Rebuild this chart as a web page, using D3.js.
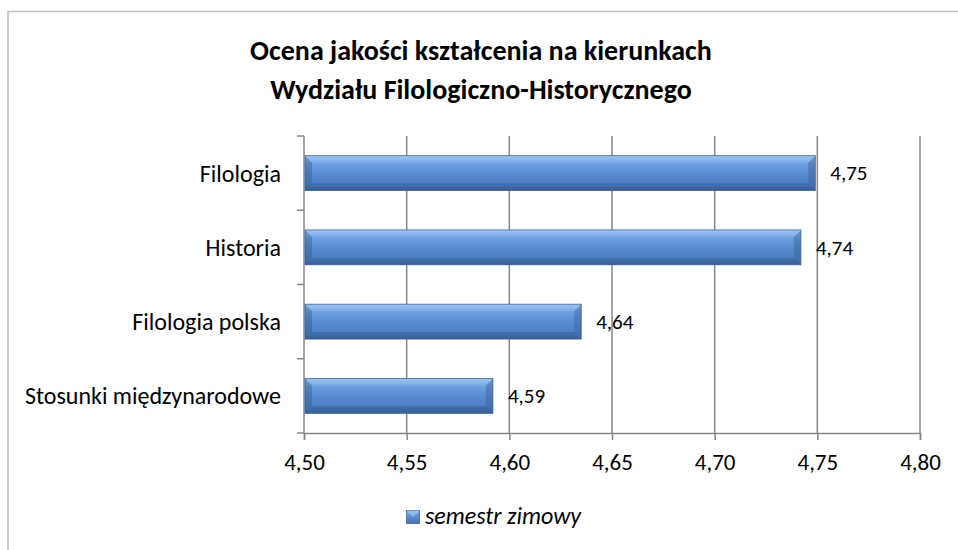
<!DOCTYPE html>
<html>
<head>
<meta charset="utf-8">
<style>
body { margin: 0; background: white; }
svg text { font-family: Calibri, Carlito, Lato, sans-serif; fill: #000; }
</style>
</head>
<body>
<script src="https://cdnjs.cloudflare.com/ajax/libs/d3/7.8.5/d3.min.js"></script>
<script>
// data
var categories = ["Filologia", "Historia", "Filologia polska", "Stosunki międzynarodowe"];
var values = [4.749, 4.742, 4.635, 4.592];
var valueLabels = ["4,75", "4,74", "4,64", "4,59"];
var ticks = [4.50, 4.55, 4.60, 4.65, 4.70, 4.75, 4.80];
var titleLines = ["Ocena jakości kształcenia na kierunkach", "Wydziału Filologiczno-Historycznego"];
var seriesName = "semestr zimowy";

var width = 958, height = 550;
var fmt = function(d) { return d3.format(".2f")(d).replace(".", ","); };

var svg = d3.select("body").append("svg")
    .attr("width", width)
    .attr("height", height);

// gradients for the bevelled bars
var defs = svg.append("defs");
var grad = defs.append("linearGradient")
    .attr("id", "barGrad")
    .attr("x1", 0).attr("y1", 0).attr("x2", 0).attr("y2", 1);
grad.append("stop").attr("offset", "0%").attr("stop-color", "#9cc3f2");
grad.append("stop").attr("offset", "12%").attr("stop-color", "#8ab6ec");
grad.append("stop").attr("offset", "25%").attr("stop-color", "#6b9ee0");
grad.append("stop").attr("offset", "55%").attr("stop-color", "#5589cf");
grad.append("stop").attr("offset", "85%").attr("stop-color", "#4c7dc0");
grad.append("stop").attr("offset", "100%").attr("stop-color", "#3e659c");

// chart frame (runs off the page on the right and bottom)
svg.append("rect")
    .attr("x", 8).attr("y", 11.5)
    .attr("width", 1000).attr("height", 600)
    .attr("fill", "none")
    .attr("stroke", "#bfbfbf")
    .attr("stroke-width", 1.5);

// title
svg.append("g").selectAll("text")
    .data(titleLines)
    .enter()
    .append("text")
    .attr("x", 481)
    .attr("y", function(d, i) { return 60 + i * 39; })
    .attr("text-anchor", "middle")
    .style("font-size", "28px")
    .style("font-weight", "bold")
    .text(function(d) { return d; });

var x = d3.scaleLinear()
    .domain([4.5, 4.8])
    .range([304, 920]);

var y = d3.scaleBand()
    .domain(categories)
    .range([136, 433])
    .paddingInner(0.53)
    .paddingOuter(0.265);

// vertical gridlines
svg.append("g").selectAll("line")
    .data(ticks.slice(1))
    .enter()
    .append("line")
    .attr("x1", function(d) { return x(d); })
    .attr("x2", function(d) { return x(d); })
    .attr("y1", 136)
    .attr("y2", 433)
    .attr("stroke", "#868686")
    .attr("stroke-width", 1.5);

// x axis
var xAxis = svg.append("g")
    .attr("transform", "translate(0,433)")
    .call(d3.axisBottom(x).tickValues(ticks).tickFormat(fmt).tickSize(7).tickPadding(14));
xAxis.select(".domain").attr("stroke", "#868686").attr("stroke-width", 1.5);
xAxis.selectAll(".tick line").attr("stroke", "#868686").attr("stroke-width", 1.5);
xAxis.selectAll("text")
    .style("font-family", "Calibri, Carlito, Lato, sans-serif")
    .style("font-size", "23px")
    .attr("fill", "#000");

// y axis: ticks sit between the categories
var yAxisG = svg.append("g");
yAxisG.append("line")
    .attr("x1", 304).attr("x2", 304)
    .attr("y1", 136).attr("y2", 433)
    .attr("stroke", "#868686").attr("stroke-width", 1.5);
var bounds = [136].concat(categories.map(function(c) { return y(c) + y.bandwidth() + y.step() * y.paddingInner() / 2; }));
yAxisG.selectAll("line.tk")
    .data(bounds)
    .enter()
    .append("line")
    .attr("class", "tk")
    .attr("x1", 297).attr("x2", 304)
    .attr("y1", function(d) { return d; })
    .attr("y2", function(d) { return d; })
    .attr("stroke", "#868686").attr("stroke-width", 1.5);
yAxisG.selectAll("text")
    .data(categories)
    .enter()
    .append("text")
    .attr("x", 281)
    .attr("y", function(d) { return y(d) + y.bandwidth() / 2; })
    .attr("dy", "0.35em")
    .attr("text-anchor", "end")
    .style("font-size", "24px")
    .text(function(d) { return d; });

// bars
var bars = svg.append("g").selectAll("g")
    .data(values)
    .enter()
    .append("g");

bars.append("rect")
    .attr("x", x(4.5) + 1)
    .attr("y", function(d, i) { return y(categories[i]); })
    .attr("width", function(d) { return x(d) - x(4.5) - 1; })
    .attr("height", y.bandwidth())
    .attr("fill", "url(#barGrad)")
    .attr("stroke", "#41679a")
    .attr("stroke-width", 0.8);

var b = 7;
// left bevel (shadowed)
bars.append("polygon")
    .attr("points", function(d, i) {
        var x0 = x(4.5) + 1, y0 = y(categories[i]), y1 = y0 + y.bandwidth();
        return [[x0, y0], [x0 + b, y0 + b], [x0 + b, y1 - b], [x0, y1]].join(" ");
    })
    .attr("fill", "#2c4f80")
    .attr("opacity", 0.35);
// right bevel
bars.append("polygon")
    .attr("points", function(d, i) {
        var x1 = x(d), y0 = y(categories[i]), y1 = y0 + y.bandwidth();
        return [[x1, y0], [x1 - b, y0 + b], [x1 - b, y1 - b], [x1, y1]].join(" ");
    })
    .attr("fill", "#3a6099")
    .attr("opacity", 0.45);
// bottom bevel
bars.append("polygon")
    .attr("points", function(d, i) {
        var x0 = x(4.5) + 1, x1 = x(d), y1 = y(categories[i]) + y.bandwidth();
        return [[x0, y1], [x0 + b, y1 - b], [x1 - b, y1 - b], [x1, y1]].join(" ");
    })
    .attr("fill", "#2f558a")
    .attr("opacity", 0.4);

// value labels
bars.append("text")
    .attr("x", function(d) { return x(d) + 15; })
    .attr("y", function(d, i) { return y(categories[i]) + y.bandwidth() / 2; })
    .attr("dy", "0.35em")
    .style("font-size", "21px")
    .text(function(d, i) { return valueLabels[i]; });

// legend
var legend = svg.append("g");
legend.append("rect")
    .attr("x", 406.5).attr("y", 510.5)
    .attr("width", 13).attr("height", 13)
    .attr("fill", "url(#barGrad)")
    .attr("stroke", "#41679a")
    .attr("stroke-width", 0.8);
legend.append("polygon")
    .attr("points", [[406.5, 510.5], [419.5, 510.5], [413, 517]].join(" "))
    .attr("fill", "#9cc3f2")
    .attr("opacity", 0.7);
legend.append("text")
    .attr("x", 425)
    .attr("y", 524)
    .style("font-size", "24px")
    .style("font-style", "italic")
    .text(seriesName);
</script>
</body>
</html>
